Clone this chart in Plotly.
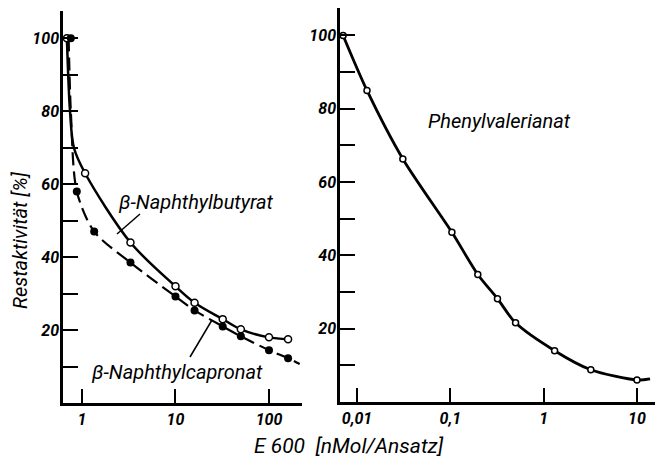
import plotly.graph_objects as go

# ---- data ----
# left panel: beta-Naphthylbutyrat (open circles, solid line)
but_x = [0.69, 1.08, 3.3, 10, 16, 32, 50, 100, 160]
but_y = [100, 63, 44, 32, 27.5, 23, 20.2, 18, 17.5]
but_curve_x = [0.69, 0.745, 0.82, 1.08, 3.3, 10, 16, 32, 50, 100, 160]
but_curve_y = [100, 80, 70, 63, 44, 32, 27.5, 23, 20.2, 18, 17.5]

# left panel: beta-Naphthylcapronat (filled circles, dashed line)
cap_x = [0.76, 0.88, 1.35, 3.3, 10, 16, 32, 50, 100, 160]
cap_y = [100, 58, 47, 38.5, 29.2, 25.4, 21, 18.3, 14.5, 12.3]
cap_curve_x = [0.72, 0.76, 0.88, 1.35, 3.3, 10, 16, 32, 50, 100, 160, 213]
cap_curve_y = [100, 80, 58, 47, 38.5, 29.2, 25.4, 21, 18.3, 14.5, 12.3, 10.7]

# right panel: Phenylvalerianat (open circles, solid line)
phv_x = [0.0071, 0.0128, 0.031, 0.104, 0.197, 0.32, 0.5, 1.31, 3.2, 10]
phv_y = [100, 85, 66.3, 46.3, 34.8, 28.2, 21.6, 14, 8.8, 6.0]
phv_curve_x = phv_x + [13.8]
phv_curve_y = phv_y + [6.3]

left_ticks = [1, 10, 100]
left_ticktext = ["1", "10", "100"]
right_ticks = [0.01, 0.1, 1, 10]
right_ticktext = ["0,01", "0,1", "1", "10"]
y_ticks = [20, 40, 60, 80, 100]
y_ticktext = ["20", "40", "60", "80", "100"]

FONT = "Roboto, Liberation Sans, sans-serif"
tickfont = dict(family=FONT, size=16, color="black", style="italic", weight="bold")

fig = go.Figure()

fig.add_trace(go.Scatter(x=but_curve_x, y=but_curve_y, mode="lines",
                         line=dict(color="black", width=2.5, shape="spline", smoothing=0.9),
                         xaxis="x", yaxis="y", showlegend=False, hoverinfo="skip"))
fig.add_trace(go.Scatter(x=cap_curve_x, y=cap_curve_y, mode="lines",
                         line=dict(color="black", width=2.2, dash="13px,6px", shape="spline", smoothing=0.8),
                         xaxis="x", yaxis="y", showlegend=False, hoverinfo="skip"))
fig.add_trace(go.Scatter(x=but_x, y=but_y, mode="markers",
                         marker=dict(symbol="circle", size=7, color="white",
                                     line=dict(color="black", width=1.5)),
                         xaxis="x", yaxis="y", showlegend=False))
fig.add_trace(go.Scatter(x=cap_x, y=cap_y, mode="markers",
                         marker=dict(symbol="circle", size=8, color="black"),
                         xaxis="x", yaxis="y", showlegend=False))

fig.add_trace(go.Scatter(x=phv_curve_x, y=phv_curve_y, mode="lines",
                         line=dict(color="black", width=2.8, shape="spline", smoothing=0.8),
                         xaxis="x2", yaxis="y2", showlegend=False, hoverinfo="skip"))
fig.add_trace(go.Scatter(x=phv_x, y=phv_y, mode="markers",
                         marker=dict(symbol="circle", size=6, color="white",
                                     line=dict(color="black", width=1.5)),
                         xaxis="x2", yaxis="y2", showlegend=False))

xcommon = dict(type="log", showline=True, linecolor="black", linewidth=2.5,
               ticks="inside", ticklen=14, tickwidth=2, tickcolor="black",
               showgrid=False, zeroline=False, tickfont=tickfont)
ycommon = dict(range=[0, 107.5], showline=True, linecolor="black", linewidth=2.5,
               ticks="inside", ticklen=15, tickwidth=2, tickcolor="black",
               tickvals=y_ticks, ticktext=y_ticktext, ticklabelstandoff=-2,
               minor=dict(tickvals=[10, 30, 50, 70, 90], ticks="inside", ticklen=15,
                          tickwidth=2, tickcolor="black", showgrid=False),
               showgrid=False, zeroline=False, tickfont=tickfont)

fig.update_layout(
    width=658, height=460,
    margin=dict(l=0, r=0, t=0, b=0),
    paper_bgcolor="white", plot_bgcolor="white",
    xaxis=dict(domain=[63/658, 302/658], range=[-0.203, 2.353], anchor="y",
               tickvals=left_ticks, ticktext=left_ticktext, **xcommon),
    yaxis=dict(domain=[57/460, 449/460], anchor="x", **ycommon),
    xaxis2=dict(domain=[340/658, 655/658], range=[-2.182, 1.193], anchor="y2",
                tickvals=right_ticks, ticktext=right_ticktext, **xcommon),
    yaxis2=dict(domain=[58/460, 452/460], anchor="x2", **ycommon),
)

labfont = dict(family=FONT, size=20, color="black", style="italic")
C = dict(xanchor="center", yanchor="middle", xref="paper", yref="paper", showarrow=False)
ann = [
    dict(text="β-Naphthylbutyrat", x=196/658, y=1-202/460, font=labfont, **C),
    dict(text="β-Naphthylcapronat", x=177/658, y=1-372/460, font=labfont, **C),
    dict(text="Phenylvalerianat", x=499/658, y=1-121/460, font=labfont, **C),
    # axis titles
    dict(text="Restaktivität [%]",
         x=20/658, y=1-240/460, textangle=-90,
         font=dict(family=FONT, size=20, color="black", style="italic"), **C),
    dict(text="E 600  [nMol/Ansatz]",
         x=349/658, y=1-446/460, font=dict(family=FONT, size=21, color="black", style="italic"), **C),
]
fig.update_layout(annotations=ann)

# leader lines from labels to curves (paper coordinates)
fig.add_shape(type="line", xref="paper", yref="paper",
              x0=140/658, y0=1-214/460, x1=117/658, y1=1-234/460,
              line=dict(color="black", width=1.5))
fig.add_shape(type="line", xref="paper", yref="paper",
              x0=190/658, y0=1-357/460, x1=212/658, y1=1-320/460,
              line=dict(color="black", width=1.5))

fig.write_html("out.html")
